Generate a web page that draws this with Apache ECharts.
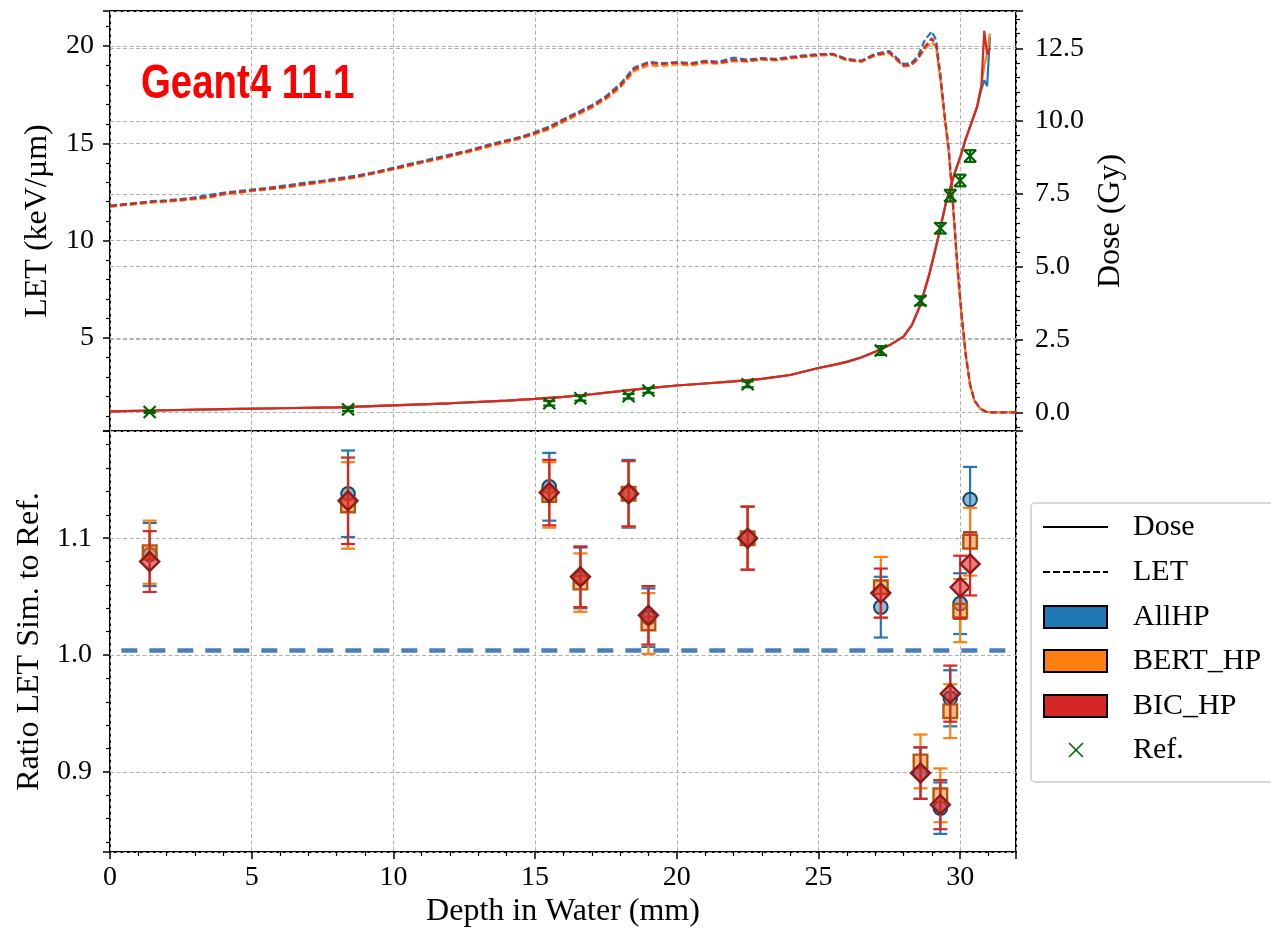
<!DOCTYPE html>
<html>
<head>
<meta charset="utf-8">
<script src="https://cdn.jsdelivr.net/npm/echarts@6.0.0/dist/echarts.min.js"></script>
<style>
  html, body { margin: 0; padding: 0; background: #fff; }
  #chart { width: 1271px; height: 932px; }
</style>
</head>
<body>
<div id="chart"></div>
<script>
// depth (mm) for the dashed LET curves
var letDepth = [0, 0.5, 1, 1.5, 2, 2.5, 3, 3.5, 4, 4.5, 5, 5.5, 6, 6.5, 7, 7.5, 8, 8.5, 9, 9.5,
  10, 10.5, 11, 11.5, 12, 12.5, 13, 13.5, 14, 14.5, 15, 15.5, 16, 16.5, 17, 17.5, 18, 18.5, 19, 19.5,
  20, 20.5, 21, 21.5, 22, 22.5, 23, 23.5, 24, 24.5, 25, 25.5, 26, 26.5, 27, 27.5, 28,
  28.25, 28.5, 28.75, 29, 29.15, 29.3, 29.45, 29.6, 29.75, 29.9, 30.05, 30.2, 30.35, 30.5, 30.7, 30.9, 31.1, 31.5, 32];
var letAllHP = [11.80, 11.88, 11.95, 12.03, 12.07, 12.14, 12.22, 12.36, 12.46, 12.55, 12.62, 12.70, 12.80, 12.90, 13.00, 13.08, 13.20, 13.30, 13.42, 13.58,
  13.74, 13.92, 14.08, 14.26, 14.42, 14.58, 14.78, 14.98, 15.16, 15.34, 15.58, 15.86, 16.24, 16.60, 16.96, 17.42, 18.05, 18.90, 19.18, 19.12,
  19.18, 19.12, 19.24, 19.20, 19.40, 19.30, 19.38, 19.34, 19.44, 19.52, 19.58, 19.60, 19.34, 19.25, 19.60, 19.74, 19.08,
  19.10, 19.45, 20.30, 20.75, 20.30, 18.6, 16.5, 14.7, 11.9, 8.8, 6.2, 4.1, 2.6, 1.8, 1.38, 1.22, 1.18, 1.18, 1.18];
var letBERT = [11.74, 11.82, 11.88, 11.96, 12.01, 12.06, 12.13, 12.20, 12.36, 12.45, 12.54, 12.62, 12.69, 12.79, 12.89, 12.99, 13.10, 13.20, 13.34, 13.50,
  13.66, 13.82, 13.99, 14.15, 14.32, 14.50, 14.68, 14.88, 15.06, 15.25, 15.47, 15.72, 16.10, 16.46, 16.82, 17.27, 17.86, 18.72, 19.00, 18.98,
  19.06, 19.00, 19.12, 19.10, 19.22, 19.20, 19.30, 19.26, 19.36, 19.44, 19.50, 19.55, 19.26, 19.18, 19.50, 19.62, 18.95,
  18.98, 19.30, 19.85, 20.20, 19.95, 18.3, 16.3, 14.5, 11.7, 8.6, 6.1, 4.1, 2.6, 1.8, 1.38, 1.22, 1.18, 1.18, 1.18];
var letBIC = [11.77, 11.85, 11.92, 12.00, 12.04, 12.10, 12.17, 12.26, 12.42, 12.50, 12.58, 12.66, 12.74, 12.84, 12.94, 13.04, 13.14, 13.24, 13.38, 13.54,
  13.70, 13.86, 14.04, 14.20, 14.37, 14.55, 14.74, 14.93, 15.12, 15.30, 15.53, 15.80, 16.18, 16.54, 16.90, 17.35, 17.95, 18.82, 19.12, 19.08,
  19.14, 19.08, 19.20, 19.14, 19.28, 19.24, 19.34, 19.30, 19.40, 19.48, 19.55, 19.58, 19.30, 19.22, 19.55, 19.68, 19.00,
  19.02, 19.35, 19.95, 20.40, 20.05, 18.4, 16.4, 14.6, 11.8, 8.7, 6.2, 4.1, 2.6, 1.8, 1.38, 1.22, 1.18, 1.18, 1.18];

// depth (mm) for the solid dose curves
var doseDepth = [0, 2, 4, 6, 8, 10, 12, 14, 15, 16, 17, 18, 19, 20, 21, 22, 23, 24, 25, 25.5,
  26, 26.5, 27, 27.5, 28, 28.3, 28.6, 28.9, 29.2, 29.5, 29.8, 30.0, 30.2, 30.4, 30.6, 30.75, 30.85, 30.95, 31.05];
var doseAllHP = [0.03, 0.07, 0.11, 0.14, 0.17, 0.24, 0.31, 0.40, 0.46, 0.53, 0.62, 0.73, 0.83, 0.92, 0.99, 1.06, 1.15, 1.28, 1.52, 1.62,
  1.73, 1.88, 2.08, 2.30, 2.60, 3.00, 3.70, 4.70, 5.90, 7.20, 8.20, 8.75, 9.40, 9.95, 10.50, 11.10, 11.40, 11.20, 12.90];
var doseBERT = [0.03, 0.07, 0.11, 0.14, 0.17, 0.24, 0.31, 0.40, 0.46, 0.53, 0.62, 0.73, 0.83, 0.92, 0.99, 1.06, 1.15, 1.28, 1.52, 1.62,
  1.73, 1.88, 2.08, 2.30, 2.60, 3.00, 3.70, 4.70, 5.90, 7.20, 8.20, 8.75, 9.40, 9.95, 10.50, 11.25, 11.90, 12.30, 13.00];
var doseBIC = [0.03, 0.07, 0.11, 0.14, 0.17, 0.24, 0.31, 0.40, 0.46, 0.53, 0.62, 0.73, 0.83, 0.92, 0.99, 1.06, 1.15, 1.28, 1.52, 1.62,
  1.73, 1.88, 2.08, 2.30, 2.60, 3.00, 3.70, 4.70, 5.90, 7.20, 8.20, 8.75, 9.40, 9.95, 10.50, 11.20, 13.10, 12.30, 12.50];

// reference measurements
var refDepth = [1.4, 8.4, 15.5, 16.6, 18.3, 19.0, 22.5, 27.2, 28.6, 29.3, 29.65, 30.0, 30.35];
var refDose = [0.01, 0.10, 0.31, 0.48, 0.55, 0.75, 0.96, 2.12, 3.83, 6.32, 7.44, 7.96, 8.80];
var refErr = [0.03, 0.05, 0.08, 0.08, 0.08, 0.08, 0.10, 0.15, 0.15, 0.18, 0.2, 0.2, 0.2];

// ratio of simulated LET to reference, with errors
var ratioAllHP = [1.086, 1.138, 1.144, 1.066, 1.138, 1.032, 1.100, 1.041, 0.899, 0.869, 0.963, 1.044, 1.133];
var errAllHP = [0.027, 0.037, 0.029, 0.026, 0.029, 0.025, 0.027, 0.026, 0.022, 0.022, 0.024, 0.026, 0.028];
var ratioBERT = [1.088, 1.128, 1.137, 1.062, 1.138, 1.027, 1.100, 1.058, 0.909, 0.880, 0.952, 1.038, 1.097];
var errBERT = [0.027, 0.037, 0.028, 0.025, 0.028, 0.026, 0.027, 0.026, 0.023, 0.023, 0.023, 0.027, 0.029];
var ratioBIC = [1.080, 1.132, 1.139, 1.067, 1.138, 1.034, 1.100, 1.053, 0.899, 0.872, 0.967, 1.058, 1.078];
var errBIC = [0.026, 0.037, 0.028, 0.026, 0.028, 0.025, 0.027, 0.021, 0.022, 0.021, 0.024, 0.027, 0.027];

var unityLine = [[0.4, 1.004], [31.6, 1.004]];

var SERIF = "'Liberation Serif', 'Times New Roman', serif";
var C_BLUE = '#1f77b4', C_ORANGE = '#ff7f0e', C_RED = '#d62728', C_REF = '#006400';

function pairs(xs, ys) {
  return xs.map(function (x, i) { return [x, ys[i]]; });
}
function triples(xs, ys, es) {
  return xs.map(function (x, i) { return [x, ys[i], es[i]]; });
}

// error bar + marker, drawn with the axis scales
function errorBarItem(color, marker) {
  return function (params, api) {
    var x = api.value(0), y = api.value(1), e = api.value(2);
    var c = api.coord([x, y]);
    var hi = api.coord([x, y + e]);
    var lo = api.coord([x, y - e]);
    var bar = { stroke: color, lineWidth: 2.2 };
    var kids = [
      { type: 'line', shape: { x1: c[0], y1: hi[1], x2: c[0], y2: lo[1] }, style: bar },
      { type: 'line', shape: { x1: c[0] - 7, y1: hi[1], x2: c[0] + 7, y2: hi[1] }, style: bar },
      { type: 'line', shape: { x1: c[0] - 7, y1: lo[1], x2: c[0] + 7, y2: lo[1] }, style: bar }
    ];
    if (marker === 'circle') {
      kids.push({ type: 'circle', shape: { cx: c[0], cy: c[1], r: 6.8 },
        style: { fill: 'rgba(31,119,180,0.5)', stroke: '#1a466c', lineWidth: 2 } });
    } else if (marker === 'square') {
      kids.push({ type: 'rect', shape: { x: c[0] - 6.8, y: c[1] - 6.8, width: 13.6, height: 13.6 },
        style: { fill: 'rgba(255,127,14,0.5)', stroke: '#b0580a', lineWidth: 2.4 } });
    } else {
      kids.push({ type: 'polygon', shape: { points: [[c[0], c[1] - 9.5], [c[0] + 9.5, c[1]], [c[0], c[1] + 9.5], [c[0] - 9.5, c[1]]] },
        style: { fill: 'rgba(214,39,40,0.6)', stroke: '#8b1a1a', lineWidth: 2.4 } });
    }
    return { type: 'group', children: kids };
  };
}

function refItem(params, api) {
  var x = api.value(0), y = api.value(1), e = api.value(2);
  var c = api.coord([x, y]);
  var hi = api.coord([x, y + e]);
  var lo = api.coord([x, y - e]);
  var st = { stroke: C_REF, lineWidth: 2.2 };
  var r = 6;
  return { type: 'group', children: [
    { type: 'line', shape: { x1: c[0], y1: hi[1], x2: c[0], y2: lo[1] }, style: st },
    { type: 'line', shape: { x1: c[0] - 6, y1: hi[1], x2: c[0] + 6, y2: hi[1] }, style: st },
    { type: 'line', shape: { x1: c[0] - 6, y1: lo[1], x2: c[0] + 6, y2: lo[1] }, style: st },
    { type: 'line', shape: { x1: c[0] - r, y1: c[1] - r, x2: c[0] + r, y2: c[1] + r }, style: st },
    { type: 'line', shape: { x1: c[0] - r, y1: c[1] + r, x2: c[0] + r, y2: c[1] - r }, style: st }
  ] };
}

var gridLine = { show: true, lineStyle: { color: '#b0b0b0', width: 1, type: [4, 2.5] } };
var tickStyle = { show: true, length: 7, lineStyle: { color: '#000', width: 1.5 } };
var minorStyle = { show: true, splitNumber: 5, length: 4, lineStyle: { color: '#000', width: 1.2 } };
var labelStyle = { fontFamily: SERIF, fontSize: 28, color: '#000' };
var nameStyle = { fontFamily: SERIF, fontSize: 32, color: '#000' };

function letLine(data, color) {
  return { type: 'line', xAxisIndex: 0, yAxisIndex: 0, data: data, showSymbol: false, symbol: 'none',
    lineStyle: { color: color, width: 2.2, type: [7, 3] } };
}
function doseLine(data, color) {
  return { type: 'line', xAxisIndex: 0, yAxisIndex: 1, data: data, showSymbol: false, symbol: 'none',
    lineStyle: { color: color, width: 2.2 } };
}

var legendRows = [527, 572, 617, 661, 706, 750];
var legendGraphics = [
  { type: 'rect', shape: { x: 1031, y: 503, width: 260, height: 279, r: 4 },
    style: { fill: 'rgba(255,255,255,0.8)', stroke: '#cccccc', lineWidth: 1.5 } },
  { type: 'line', shape: { x1: 1043, y1: legendRows[0], x2: 1108, y2: legendRows[0] }, style: { stroke: '#000', lineWidth: 2 } },
  { type: 'line', shape: { x1: 1043, y1: legendRows[1], x2: 1108, y2: legendRows[1] }, style: { stroke: '#000', lineWidth: 2, lineDash: [7, 3] } },
  { type: 'rect', shape: { x: 1044, y: legendRows[2] - 11, width: 63, height: 22 }, style: { fill: C_BLUE, stroke: '#000', lineWidth: 2 } },
  { type: 'rect', shape: { x: 1044, y: legendRows[3] - 11, width: 63, height: 22 }, style: { fill: C_ORANGE, stroke: '#000', lineWidth: 2 } },
  { type: 'rect', shape: { x: 1044, y: legendRows[4] - 11, width: 63, height: 22 }, style: { fill: C_RED, stroke: '#000', lineWidth: 2 } },
  { type: 'line', shape: { x1: 1069, y1: legendRows[5] - 7, x2: 1083, y2: legendRows[5] + 7 }, style: { stroke: C_REF, lineWidth: 1.6 } },
  { type: 'line', shape: { x1: 1069, y1: legendRows[5] + 7, x2: 1083, y2: legendRows[5] - 7 }, style: { stroke: C_REF, lineWidth: 1.6 } }
];
['Dose', 'LET', 'AllHP', 'BERT_HP', 'BIC_HP', 'Ref.'].forEach(function (t, i) {
  legendGraphics.push({ type: 'text', x: 1133, y: legendRows[i],
    style: { text: t, fontFamily: SERIF, fontSize: 30, fill: '#000', align: 'left', verticalAlign: 'middle' } });
});

var option = {
  animation: false,
  backgroundColor: '#fff',
  grid: [
    { left: 110, top: 11, width: 906, height: 420, show: true, borderColor: '#000', borderWidth: 2, backgroundColor: 'transparent' },
    { left: 110, top: 431, width: 906, height: 421, show: true, borderColor: '#000', borderWidth: 2, backgroundColor: 'transparent' }
  ],
  xAxis: [
    { type: 'value', gridIndex: 0, min: 0, max: 31.97, interval: 5,
      axisLine: { show: false }, axisTick: { show: false }, axisLabel: { show: false }, splitLine: gridLine },
    { type: 'value', gridIndex: 1, min: 0, max: 31.97, interval: 5,
      axisLine: { show: false }, axisTick: tickStyle, minorTick: minorStyle,
      axisLabel: Object.assign({ margin: 12, showMaxLabel: false }, labelStyle), splitLine: gridLine,
      name: 'Depth in Water (mm)', nameLocation: 'middle', nameGap: 44, nameTextStyle: nameStyle }
  ],
  yAxis: [
    { type: 'value', gridIndex: 0, position: 'left', min: 0.222, max: 21.8, splitNumber: 4, minInterval: 5, maxInterval: 5,
      axisLine: { show: false }, axisTick: tickStyle, minorTick: minorStyle,
      axisLabel: Object.assign({ margin: 16, showMinLabel: false, showMaxLabel: false }, labelStyle), splitLine: gridLine,
      name: 'LET (keV/µm)', nameLocation: 'middle', nameGap: 56, nameRotate: 90, nameTextStyle: nameStyle },
    { type: 'value', gridIndex: 0, position: 'right', min: -0.642, max: 13.78, splitNumber: 6, minInterval: 2.5, maxInterval: 2.5,
      axisLine: { show: false }, axisTick: tickStyle, minorTick: minorStyle,
      axisLabel: Object.assign({ margin: 19, showMinLabel: false, showMaxLabel: false,
        formatter: function (v) { return v.toFixed(1); } }, labelStyle), splitLine: gridLine,
      name: 'Dose (Gy)', nameLocation: 'middle', nameGap: 78, nameRotate: 90, nameTextStyle: nameStyle },
    { type: 'value', gridIndex: 1, position: 'left', min: 0.8315, max: 1.1917, splitNumber: 4, minInterval: 0.1, maxInterval: 0.1,
      axisLine: { show: false }, axisTick: tickStyle, minorTick: minorStyle,
      axisLabel: Object.assign({ margin: 18, showMinLabel: false, showMaxLabel: false,
        formatter: function (v) { return v.toFixed(1); } }, labelStyle), splitLine: gridLine,
      name: 'Ratio LET Sim. to Ref.', nameLocation: 'middle', nameGap: 64, nameRotate: 90, nameTextStyle: nameStyle }
  ],
  graphic: [
    // narrow bold title, squeezed horizontally since no narrow face is installed
    { type: 'text', x: 141, y: 85, scaleX: 0.8, scaleY: 1.02,
      style: { text: 'Geant4 11.1', fontFamily: "'Liberation Sans', Arial, sans-serif",
        fontWeight: 'bold', fontSize: 48, fill: '#ff0000', align: 'left', verticalAlign: 'middle' } }
  ].concat(legendGraphics),
  series: [
    letLine(pairs(letDepth, letAllHP), C_BLUE),
    doseLine(pairs(doseDepth, doseAllHP), C_BLUE),
    letLine(pairs(letDepth, letBERT), C_ORANGE),
    doseLine(pairs(doseDepth, doseBERT), C_ORANGE),
    letLine(pairs(letDepth, letBIC), C_RED),
    doseLine(pairs(doseDepth, doseBIC), C_RED),
    { type: 'custom', xAxisIndex: 0, yAxisIndex: 1, renderItem: refItem,
      data: triples(refDepth, refDose, refErr), encode: { x: 0, y: 1 }, z: 5 },
    { type: 'line', xAxisIndex: 1, yAxisIndex: 2, data: unityLine, showSymbol: false, symbol: 'none',
      lineStyle: { color: '#4a7dbb', width: 4.5, type: [16, 12] } },
    { type: 'custom', xAxisIndex: 1, yAxisIndex: 2, renderItem: errorBarItem(C_BLUE, 'circle'),
      data: triples(refDepth, ratioAllHP, errAllHP), encode: { x: 0, y: 1 } },
    { type: 'custom', xAxisIndex: 1, yAxisIndex: 2, renderItem: errorBarItem(C_ORANGE, 'square'),
      data: triples(refDepth, ratioBERT, errBERT), encode: { x: 0, y: 1 } },
    { type: 'custom', xAxisIndex: 1, yAxisIndex: 2, renderItem: errorBarItem(C_RED, 'diamond'),
      data: triples(refDepth, ratioBIC, errBIC), encode: { x: 0, y: 1 } }
  ]
};

var chart = echarts.init(document.getElementById('chart'), null, { renderer: 'canvas' });
chart.setOption(option);
</script>
</body>
</html>
